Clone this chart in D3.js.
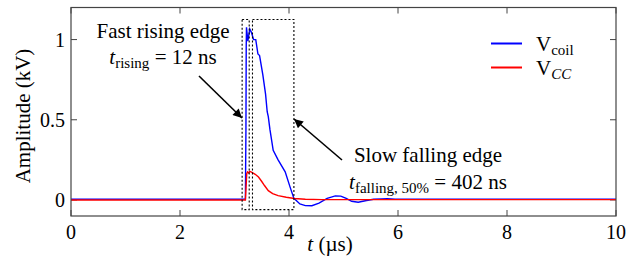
<!DOCTYPE html>
<html>
<head>
<meta charset="utf-8">
<script src="https://cdn.jsdelivr.net/npm/d3@7"></script>
<style>
    html, body { margin: 0; padding: 0; background: #fff; }
    svg { display: block; }
    text { font-family: "Liberation Serif", "Times New Roman", serif; fill: #000; }
</style>
</head>
<body>
<svg id="chart" width="639" height="259"></svg>
<script>
// Coil voltage vs. collector voltage, single pulse

const tCoil = [0, 3.15, 3.20, 3.21, 3.215, 3.22, 3.245, 3.28, 3.31, 3.35, 3.39, 3.43, 3.46, 3.52, 3.57,
    3.60, 3.62, 3.65, 3.71, 3.80, 3.93, 4.02, 4.09, 4.20, 4.30, 4.42, 4.55, 4.70, 4.85, 4.95,
    5.05, 5.15, 5.27, 5.40, 5.55, 5.70, 5.80, 5.95, 6.10, 10];
const vCoil = [0.004, 0.004, 0.006, 0.45, 0.95, 1.077, 0.99, 1.066, 1.045, 1.0, 1.0, 0.91, 0.90, 0.78, 0.66,
    0.55, 0.52, 0.44, 0.31, 0.25, 0.175, 0.08, 0.01, -0.025, -0.035, -0.036, -0.02, 0.01, 0.025, 0.024,
    0.01, -0.008, -0.014, -0.005, 0.004, 0.007, 0.008, 0.004, 0.004, 0.004];

const tCC = [0, 3.20, 3.215, 3.225, 3.24, 3.26, 3.28, 3.32, 3.38, 3.44, 3.50, 3.55, 3.62, 3.70, 3.80,
    3.95, 4.10, 4.30, 4.60, 10];
const vCC = [0, 0, 0.10, 0.165, 0.175, 0.168, 0.178, 0.172, 0.16, 0.143, 0.115, 0.09, 0.058, 0.04, 0.027,
    0.017, 0.009, 0.004, 0.002, 0.002];

const xTicks = [0, 2, 4, 6, 8, 10];
const yTicks = [0, 0.5, 1];

// dotted highlight boxes, in data units [t0, t1, v0, v1]
const boxes = [[3.14, 3.27, -0.06, 1.125], [3.33, 4.09, -0.06, 1.125]];

const svg = d3.select('#chart');
const margin = { top: 7.5, right: 23, bottom: 43, left: 71 };
const width = 639, height = 259;

const x = d3.scaleLinear().domain([0, 10]).range([margin.left, width - margin.right]);
const y = d3.scaleLinear().domain([-0.1, 1.2]).range([height - margin.bottom, margin.top]);

const axisColor = '#444';

// arrow marker
svg.append('defs').append('marker')
    .attr('id', 'arrow')
    .attr('viewBox', '0 0 10 10')
    .attr('refX', 10).attr('refY', 5)
    .attr('markerWidth', 11).attr('markerHeight', 9)
    .attr('markerUnits', 'userSpaceOnUse')
    .attr('orient', 'auto')
    .append('path')
    .attr('d', 'M0,0 L10,5 L0,10 Z')
    .attr('fill', '#000');

// ticks (inside, mirrored)
const tickLen = 6;
const g = svg.append('g');
xTicks.forEach(t => {
    g.append('line').attr('x1', x(t)).attr('x2', x(t))
        .attr('y1', y.range()[0]).attr('y2', y.range()[0] - tickLen)
        .attr('stroke', axisColor).attr('stroke-width', 1);
    g.append('line').attr('x1', x(t)).attr('x2', x(t))
        .attr('y1', y.range()[1]).attr('y2', y.range()[1] + tickLen)
        .attr('stroke', axisColor).attr('stroke-width', 1);
    g.append('text')
        .attr('x', x(t)).attr('y', 239)
        .attr('text-anchor', 'middle')
        .attr('font-size', '20px')
        .text(t);
});
yTicks.forEach(v => {
    g.append('line').attr('x1', x.range()[0]).attr('x2', x.range()[0] + tickLen)
        .attr('y1', y(v)).attr('y2', y(v))
        .attr('stroke', axisColor).attr('stroke-width', 1);
    g.append('line').attr('x1', x.range()[1]).attr('x2', x.range()[1] - tickLen)
        .attr('y1', y(v)).attr('y2', y(v))
        .attr('stroke', axisColor).attr('stroke-width', 1);
    g.append('text')
        .attr('x', 65).attr('y', y(v) + 7)
        .attr('text-anchor', 'end')
        .attr('font-size', '20px')
        .text(v);
});

// curves
const line = d3.line().x(d => x(d[0])).y(d => y(d[1]));
svg.append('path')
    .datum(d3.zip(tCoil, vCoil))
    .attr('d', line)
    .attr('fill', 'none')
    .attr('stroke', '#0000ff')
    .attr('stroke-width', 1.4);
svg.append('path')
    .datum(d3.zip(tCC, vCC))
    .attr('d', line)
    .attr('fill', 'none')
    .attr('stroke', '#ff0000')
    .attr('stroke-width', 1.4);

// dotted boxes
boxes.forEach(b => {
    svg.append('rect')
        .attr('x', x(b[0])).attr('y', y(b[3]))
        .attr('width', x(b[1]) - x(b[0]))
        .attr('height', y(b[2]) - y(b[3]))
        .attr('fill', 'none')
        .attr('stroke', '#000')
        .attr('stroke-width', 1.1)
        .attr('stroke-dasharray', '2,2');
});

// frame
svg.append('rect')
    .attr('x', x.range()[0]).attr('y', y.range()[1])
    .attr('width', x.range()[1] - x.range()[0])
    .attr('height', y.range()[0] - y.range()[1])
    .attr('fill', 'none')
    .attr('stroke', axisColor)
    .attr('stroke-width', 1.2);

// axis labels
const xl = svg.append('text')
    .attr('x', 330).attr('y', 251)
    .attr('text-anchor', 'middle')
    .attr('font-size', '21px');
xl.append('tspan').attr('font-style', 'italic').text('t');
xl.append('tspan').text(' (\u00b5s)');

svg.append('text')
    .attr('transform', 'translate(30,116) rotate(-90)')
    .attr('text-anchor', 'middle')
    .attr('font-size', '21px')
    .text('Amplitude (kV)');

// annotations
svg.append('text')
    .attr('x', 163).attr('y', 37.5)
    .attr('text-anchor', 'middle')
    .attr('font-size', '21px')
    .text('Fast rising edge');
const a1 = svg.append('text')
    .attr('x', 163).attr('y', 63.5)
    .attr('text-anchor', 'middle')
    .attr('font-size', '21px');
a1.append('tspan').attr('font-style', 'italic').text('t');
a1.append('tspan').attr('font-size', '15px').attr('dy', 4).text('rising');
a1.append('tspan').attr('dy', -4).text(' = 12 ns');

svg.append('text')
    .attr('x', 428).attr('y', 162)
    .attr('text-anchor', 'middle')
    .attr('font-size', '21px')
    .text('Slow falling edge');
const a2 = svg.append('text')
    .attr('x', 428).attr('y', 189)
    .attr('text-anchor', 'middle')
    .attr('font-size', '21px');
a2.append('tspan').attr('font-style', 'italic').text('t');
a2.append('tspan').attr('font-size', '15px').attr('dy', 4).text('falling, 50%');
a2.append('tspan').attr('dy', -4).text(' = 402 ns');

svg.append('line')
    .attr('x1', 199).attr('y1', 76).attr('x2', 242).attr('y2', 118)
    .attr('stroke', '#000').attr('stroke-width', 1.6)
    .attr('marker-end', 'url(#arrow)');
svg.append('line')
    .attr('x1', 342).attr('y1', 160).attr('x2', 294).attr('y2', 119)
    .attr('stroke', '#000').attr('stroke-width', 1.6)
    .attr('marker-end', 'url(#arrow)');

// legend
const legendItems = [
    { name: 'V', sub: 'coil', italic: false, color: '#0000ff' },
    { name: 'V', sub: 'CC', italic: true, color: '#ff0000' }
];
const legend = svg.append('g').attr('transform', 'translate(491, 43.5)');
legendItems.forEach((d, i) => {
    const row = legend.append('g').attr('transform', `translate(0, ${i * 24})`);
    row.append('line')
        .attr('x1', 0).attr('x2', 31).attr('y1', 0).attr('y2', 0)
        .attr('stroke', d.color).attr('stroke-width', 2);
    const t = row.append('text')
        .attr('x', 45).attr('y', 7)
        .attr('font-size', '21px');
    t.append('tspan').text(d.name);
    t.append('tspan')
        .attr('font-size', '15px')
        .attr('dy', 4)
        .attr('font-style', d.italic ? 'italic' : 'normal')
        .text(d.sub);
});
</script>
</body>
</html>
